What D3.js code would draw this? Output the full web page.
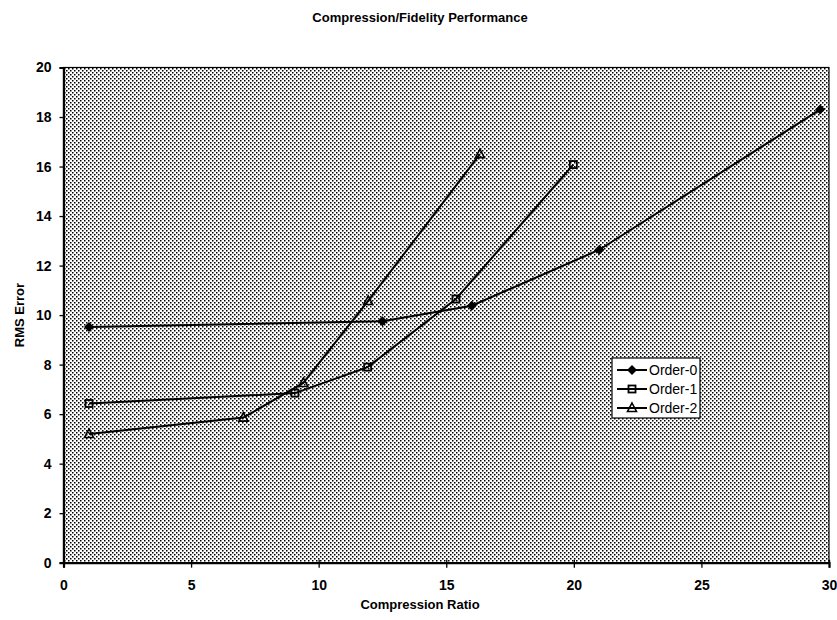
<!DOCTYPE html>
<html>
<head>
<meta charset="utf-8">
<script src="https://cdn.jsdelivr.net/npm/d3@7"></script>
<style>
  body { margin: 0; background: #fff; }
  svg text { font-family: "Liberation Sans", Arial, sans-serif; }
</style>
</head>
<body>
<svg id="chart" width="837" height="620"></svg>
<script>
// data
var seriesNames = ["Order-0", "Order-1", "Order-2"];
var order0X = [1, 12.5, 16, 21, 29.65];
var order0Y = [9.52, 9.75, 10.38, 12.64, 18.3];
var order1X = [1, 9.07, 11.92, 15.38, 19.98];
var order1Y = [6.43, 6.85, 7.9, 10.65, 16.08];
var order2X = [1, 7.05, 9.4, 11.94, 16.32];
var order2Y = [5.2, 5.86, 7.26, 10.57, 16.5];
var xTicks = [0, 5, 10, 15, 20, 25, 30];
var yTicks = [0, 2, 4, 6, 8, 10, 12, 14, 16, 18, 20];

var svg = d3.select("#chart");
var padLeft = 63.5, padRight = 829, padTop = 67.5, padBottom = 562.7;

var x = d3.scaleLinear().domain([0, 30]).range([padLeft, padRight]);
var y = d3.scaleLinear().domain([0, 20]).range([padBottom, padTop]);

// stipple background
var defs = svg.append("defs");
var pat = defs.append("pattern")
    .attr("id", "dots")
    .attr("patternUnits", "userSpaceOnUse")
    .attr("width", 4).attr("height", 4);
pat.append("rect").attr("width", 4).attr("height", 4).attr("fill", "#fff");
pat.append("rect").attr("x", 0).attr("y", 0).attr("width", 1.5).attr("height", 1.5).attr("fill", "#000");
pat.append("rect").attr("x", 2).attr("y", 2).attr("width", 1.5).attr("height", 1.5).attr("fill", "#000");

svg.append("rect")
    .attr("x", padLeft).attr("y", padTop)
    .attr("width", padRight - padLeft).attr("height", padBottom - padTop)
    .attr("fill", "url(#dots)")
    .attr("stroke", "#000")
    .attr("stroke-width", 1.2);

// axes
var yAxis = svg.append("g")
    .attr("transform", "translate(" + padLeft + ",0)")
    .call(d3.axisLeft(y).tickValues(yTicks).tickSize(4).tickPadding(8));
var xAxis = svg.append("g")
    .attr("transform", "translate(0," + padBottom + ")")
    .call(d3.axisBottom(x).tickValues(xTicks).tickSize(5).tickPadding(12));

[yAxis, xAxis].forEach(function (g) {
    g.select(".domain").attr("stroke", "#000").attr("stroke-width", 2.2);
    g.selectAll(".tick line").attr("stroke", "#000").attr("stroke-width", 1.3);
    g.selectAll(".tick text")
        .attr("fill", "#000")
        .style("font-size", "14px")
        .style("font-weight", "bold");
});
xAxis.selectAll(".tick line").attr("y1", -3);

// titles
svg.append("text")
    .attr("x", 420).attr("y", 22)
    .attr("text-anchor", "middle")
    .style("font-size", "13px").style("font-weight", "bold")
    .text("Compression/Fidelity Performance");

svg.append("text")
    .attr("x", 420).attr("y", 609)
    .attr("text-anchor", "middle")
    .style("font-size", "13px").style("font-weight", "bold")
    .text("Compression Ratio");

svg.append("text")
    .attr("transform", "translate(24," + ((padTop + padBottom) / 2) + ") rotate(-90)")
    .attr("text-anchor", "middle")
    .style("font-size", "13px").style("font-weight", "bold")
    .text("RMS Error");

// series
var series = [
    {name: seriesNames[0], xs: order0X, ys: order0Y, shape: "diamond"},
    {name: seriesNames[1], xs: order1X, ys: order1Y, shape: "square"},
    {name: seriesNames[2], xs: order2X, ys: order2Y, shape: "triangle"}
];

var line = d3.line()
    .x(d => x(d[0]))
    .y(d => y(d[1]));

function drawMarker(g, shape, cx, cy) {
    if (shape == "diamond") {
        g.append("path")
            .attr("d", "M" + cx + "," + (cy - 5) + "L" + (cx + 5) + "," + cy + "L" + cx + "," + (cy + 5) + "L" + (cx - 5) + "," + cy + "Z")
            .attr("fill", "#000");
    } else if (shape == "square") {
        g.append("rect")
            .attr("x", cx - 3.5).attr("y", cy - 3.5)
            .attr("width", 7).attr("height", 7)
            .attr("fill", "none")
            .attr("stroke", "#000").attr("stroke-width", 1.8);
    } else {
        g.append("path")
            .attr("d", "M" + cx + "," + (cy - 5) + "L" + (cx + 4.5) + "," + (cy + 3.5) + "L" + (cx - 4.5) + "," + (cy + 3.5) + "Z")
            .attr("fill", "none")
            .attr("stroke", "#000").attr("stroke-width", 1.6);
    }
}

series.forEach(function (s) {
    var pts = s.xs.map((v, i) => [v, s.ys[i]]);
    svg.append("path")
        .datum(pts)
        .attr("d", line)
        .attr("fill", "none")
        .attr("stroke", "#000")
        .attr("stroke-width", 2);
    var mg = svg.append("g");
    pts.forEach(p => drawMarker(mg, s.shape, x(p[0]), y(p[1])));
});

// legend
var lg = svg.append("g").attr("transform", "translate(612,358)");
lg.append("rect")
    .attr("width", 88).attr("height", 60)
    .attr("fill", "#fff")
    .attr("stroke", "#000").attr("stroke-width", 1.2);

series.forEach(function (s, i) {
    var ly = 12 + i * 19;
    lg.append("line")
        .attr("x1", 5).attr("x2", 35)
        .attr("y1", ly).attr("y2", ly)
        .attr("stroke", "#000").attr("stroke-width", 2);
    drawMarker(lg, s.shape, 20, ly);
    lg.append("text")
        .attr("x", 37).attr("y", ly + 5)
        .style("font-size", "14px")
        .text(s.name);
});
</script>
</body>
</html>
